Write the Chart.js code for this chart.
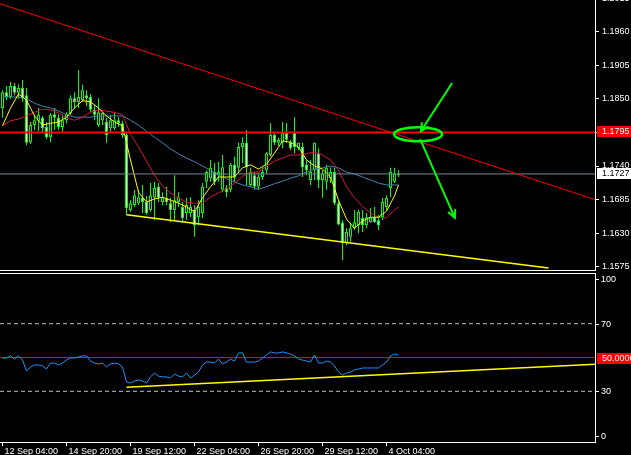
<!DOCTYPE html>
<html>
<head>
<meta charset="utf-8">
<script src="https://cdn.jsdelivr.net/npm/chart.js@4.4.1/dist/chart.umd.min.js"></script>
<style>
  html, body { margin: 0; padding: 0; background: #000; }
  #wrap { position: relative; width: 631px; height: 455px; overflow: hidden; background: #000; }
  canvas { position: absolute; left: 0; }
  #price { top: 0; }
  #rsi { top: 271px; }
</style>
</head>
<body>
<div id="wrap">
  <canvas id="price" width="631" height="271"></canvas>
  <canvas id="rsi" width="631" height="184"></canvas>
</div>
<script>
// EURUSD H4 - свечи, три скользящие, уровни, RSI

const barOpen = [
  1.1835, 1.1861, 1.1853, 1.1871, 1.1860, 1.1868, 1.1856, 1.1779, 1.1807, 1.1814,
  1.1819, 1.1804, 1.1787, 1.1825, 1.1819, 1.1804, 1.1815, 1.1827, 1.1851, 1.1845,
  1.1848, 1.1856, 1.1853, 1.1832, 1.1807, 1.1815, 1.1812, 1.1802, 1.1802, 1.1815,
  1.1810, 1.1791, 1.1668, 1.1676, 1.1679, 1.1688, 1.1681, 1.1668, 1.1688, 1.1706,
  1.1681, 1.1688, 1.1679, 1.1668, 1.1681, 1.1673, 1.1663, 1.1663, 1.1668, 1.1656,
  1.1663, 1.1714, 1.1720, 1.1730, 1.1725, 1.1701, 1.1704, 1.1701, 1.1742, 1.1737,
  1.1771, 1.1778, 1.1709, 1.1725, 1.1706, 1.1722, 1.1733, 1.1758, 1.1791, 1.1778,
  1.1778, 1.1794, 1.1779, 1.1794, 1.1769, 1.1771, 1.1742, 1.1717, 1.1733, 1.1761,
  1.1717, 1.1714, 1.1720, 1.1730, 1.1679, 1.1647, 1.1614, 1.1624, 1.1638, 1.1643,
  1.1655, 1.1643, 1.1648, 1.1656, 1.1651, 1.1656, 1.1673, 1.1704, 1.1714, 1.1725
];
const barHigh = [
  1.1864, 1.1871, 1.1878, 1.1876, 1.1874, 1.1881, 1.1868, 1.1812, 1.1824, 1.1835,
  1.1822, 1.1812, 1.1827, 1.1835, 1.1825, 1.1824, 1.1828, 1.1856, 1.1861, 1.1897,
  1.1873, 1.1864, 1.1858, 1.1840, 1.1851, 1.1828, 1.1819, 1.1824, 1.1827, 1.1820,
  1.1814, 1.1796, 1.1684, 1.1701, 1.1701, 1.1709, 1.1691, 1.1712, 1.1714, 1.1712,
  1.1697, 1.1706, 1.1688, 1.1725, 1.1697, 1.1681, 1.1688, 1.1689, 1.1676, 1.1684,
  1.1712, 1.1733, 1.1750, 1.1745, 1.1747, 1.1758, 1.1709, 1.1745, 1.1755, 1.1778,
  1.1787, 1.1799, 1.1737, 1.1730, 1.1728, 1.1738, 1.1763, 1.1810, 1.1794, 1.1786,
  1.1812, 1.1810, 1.1783, 1.1820, 1.1778, 1.1778, 1.1750, 1.1750, 1.1779, 1.1769,
  1.1733, 1.1742, 1.1738, 1.1737, 1.1684, 1.1651, 1.1638, 1.1647, 1.1668, 1.1668,
  1.1668, 1.1663, 1.1671, 1.1673, 1.1660, 1.1688, 1.1692, 1.1737, 1.1737, 1.1733
];
const barLow = [
  1.1819, 1.1848, 1.1850, 1.1856, 1.1850, 1.1845, 1.1774, 1.1776, 1.1799, 1.1797,
  1.1794, 1.1784, 1.1779, 1.1799, 1.1799, 1.1794, 1.1810, 1.1824, 1.1835, 1.1835,
  1.1845, 1.1838, 1.1828, 1.1815, 1.1804, 1.1807, 1.1778, 1.1796, 1.1799, 1.1804,
  1.1786, 1.1660, 1.1665, 1.1673, 1.1676, 1.1663, 1.1660, 1.1665, 1.1651, 1.1681,
  1.1676, 1.1676, 1.1648, 1.1651, 1.1673, 1.1648, 1.1651, 1.1656, 1.1624, 1.1643,
  1.1655, 1.1704, 1.1714, 1.1709, 1.1714, 1.1697, 1.1689, 1.1697, 1.1714, 1.1730,
  1.1745, 1.1709, 1.1706, 1.1701, 1.1701, 1.1717, 1.1728, 1.1755, 1.1774, 1.1773,
  1.1769, 1.1778, 1.1766, 1.1761, 1.1766, 1.1722, 1.1725, 1.1709, 1.1717, 1.1704,
  1.1688, 1.1701, 1.1712, 1.1676, 1.1643, 1.1586, 1.1610, 1.1616, 1.1635, 1.1630,
  1.1632, 1.1638, 1.1647, 1.1647, 1.1635, 1.1651, 1.1668, 1.1689, 1.1712, 1.1722
];
const barClose = [
  1.1861, 1.1853, 1.1871, 1.1860, 1.1868, 1.1851, 1.1778, 1.1807, 1.1815, 1.1824,
  1.1802, 1.1787, 1.1824, 1.1819, 1.1804, 1.1815, 1.1825, 1.1851, 1.1845, 1.1853,
  1.1864, 1.1851, 1.1832, 1.1824, 1.1828, 1.1827, 1.1791, 1.1815, 1.1815, 1.1810,
  1.1791, 1.1671, 1.1679, 1.1692, 1.1689, 1.1681, 1.1663, 1.1692, 1.1704, 1.1688,
  1.1689, 1.1681, 1.1668, 1.1684, 1.1689, 1.1655, 1.1676, 1.1673, 1.1643, 1.1673,
  1.1706, 1.1730, 1.1737, 1.1714, 1.1730, 1.1738, 1.1697, 1.1742, 1.1722, 1.1771,
  1.1778, 1.1738, 1.1730, 1.1706, 1.1722, 1.1730, 1.1761, 1.1791, 1.1778, 1.1783,
  1.1794, 1.1783, 1.1769, 1.1771, 1.1778, 1.1738, 1.1733, 1.1730, 1.1778, 1.1717,
  1.1728, 1.1737, 1.1730, 1.1679, 1.1644, 1.1614, 1.1632, 1.1638, 1.1648, 1.1665,
  1.1643, 1.1656, 1.1656, 1.1648, 1.1643, 1.1681, 1.1688, 1.1730, 1.1728, 1.1727
];

const maBars = [
  0, 2, 4, 6, 8, 10, 12, 14, 16, 18, 20, 22, 24, 26, 28, 30, 32, 34, 36, 38,
  40, 42, 44, 46, 48, 50, 52, 54, 56, 58, 60, 62, 64, 66, 68, 70, 72, 74, 76, 78,
  80, 82, 84, 86, 88, 90, 92, 94, 96, 98, 99
];
const maFast = [
  1.1806, 1.1835, 1.1858, 1.1848, 1.1822, 1.1807, 1.1810, 1.1812, 1.1820, 1.1835,
  1.1847, 1.1845, 1.1835, 1.1822, 1.1812, 1.1806, 1.1750, 1.1697, 1.1681, 1.1686,
  1.1689, 1.1684, 1.1679, 1.1673, 1.1665, 1.1688, 1.1706, 1.1722, 1.1722, 1.1722,
  1.1737, 1.1742, 1.1735, 1.1743, 1.1761, 1.1781, 1.1779, 1.1771, 1.1750, 1.1740,
  1.1735, 1.1722, 1.1684, 1.1653, 1.1638, 1.1650, 1.1656, 1.1656, 1.1666, 1.1691, 1.1709
];
const maMid = [
  1.1806, 1.1814, 1.1817, 1.1822, 1.1828, 1.1833, 1.1832, 1.1827, 1.1819, 1.1815,
  1.1820, 1.1828, 1.1832, 1.1830, 1.1828, 1.1824, 1.1792, 1.1771, 1.1748, 1.1725,
  1.1707, 1.1696, 1.1688, 1.1681, 1.1679, 1.1679, 1.1689, 1.1696, 1.1702, 1.1712,
  1.1723, 1.1730, 1.1730, 1.1740, 1.1748, 1.1753, 1.1758, 1.1758, 1.1760, 1.1763,
  1.1758, 1.1750, 1.1733, 1.1706, 1.1688, 1.1674, 1.1663, 1.1656, 1.1655, 1.1668, 1.1673
];
const maSlow = [
  1.1853, 1.1853, 1.1853, 1.1850, 1.1843, 1.1838, 1.1835, 1.1830, 1.1824, 1.1820,
  1.1820, 1.1820, 1.1822, 1.1822, 1.1822, 1.1822, 1.1815, 1.1807, 1.1797, 1.1787,
  1.1778, 1.1768, 1.1760, 1.1753, 1.1747, 1.1740, 1.1733, 1.1725, 1.1719, 1.1714,
  1.1709, 1.1706, 1.1702, 1.1706, 1.1711, 1.1715, 1.1720, 1.1724, 1.1730, 1.1735,
  1.1737, 1.1740, 1.1737, 1.1730, 1.1727, 1.1722, 1.1717, 1.1712, 1.1709, 1.1709, 1.1709
];

const rsiValues = [
  49.7, 49.7, 50.9, 49.1, 50.9, 48.5, 42.0, 44.4, 45.6, 45.6,
  45.0, 43.2, 46.7, 46.7, 45.6, 46.7, 48.5, 49.7, 49.7, 50.3,
  50.9, 50.9, 47.9, 46.7, 46.2, 46.7, 44.4, 46.2, 46.7, 46.2,
  44.4, 35.5, 34.9, 36.1, 36.7, 36.1, 34.9, 38.5, 40.8, 39.0,
  38.5, 38.5, 37.9, 40.2, 39.0, 38.5, 40.8, 37.9, 39.6, 41.4,
  45.6, 47.3, 47.3, 46.7, 49.1, 46.2, 47.3, 49.1, 47.9, 52.7,
  52.7, 47.3, 47.3, 47.3, 47.9, 49.7, 51.5, 53.3, 52.7, 52.7,
  53.3, 52.7, 52.1, 50.9, 49.1, 48.5, 47.9, 47.3, 51.5, 46.7,
  46.7, 47.9, 47.3, 45.0, 41.4, 39.6, 40.8, 41.4, 42.6, 43.2,
  43.8, 43.8, 43.8, 43.8, 43.8, 45.6, 47.3, 50.9, 52.1, 51.5
];

// оси
const priceTicks = [1.1575, 1.1630, 1.1685, 1.1740, 1.1795, 1.1850, 1.1905, 1.1960, 1.2015];
const rsiTicks = [100, 70, 30, 0];
const xTickBars = [0, 16, 32, 48, 64, 80, 96];
const xTickLabels = ['12 Sep 04:00', '14 Sep 20:00', '19 Sep 12:00', '22 Sep 04:00',
                     '26 Sep 20:00', '29 Sep 12:00', '4 Oct 04:00'];

// горизонтальные уровни и трендовые линии
const resistLevel = 1.1795;
const bidLevel = 1.1727;
const downTrend = { x1: -0.625, y1: 1.2006, x2: 148.125, y2: 1.1685 };
const supportTrend = { x1: 31, y1: 1.1660, x2: 136.5, y2: 1.1573 };
const rsiLevel = 50;
const rsiBands = [70, 30];
const rsiTrend = { x1: 31, y1: 32.4, x2: 148.125, y2: 46.0 };

// разметка: эллипс и стрелки (в координатах бар/цена)
const markEllipse = { x: 103.9, y: 1.1792, rx: 6, ry: 0.00115 };
const markArrows = [
  { x1: 112.4, y1: 1.1876, x2: 104.6, y2: 1.1797 },
  { x1: 104.4, y1: 1.1784, x2: 113.1, y2: 1.1655 }
];

const X_MIN = -0.625, X_MAX = 148.125;
const GREEN = '#00ff00';
const FONT = '"Liberation Sans", Arial, sans-serif';
const AXIS_FONT = { family: FONT, size: 9 };

Chart.defaults.font.family = FONT;

const candleIdx = barClose.map((_, i) => i);
const xy = (xs, ys) => ys.map((v, k) => ({ x: xs[k], y: v }));
const segment = s => [{ x: s.x1, y: s.y1 }, { x: s.x2, y: s.y2 }];
const span = v => [{ x: X_MIN, y: v }, { x: X_MAX, y: v }];

function lineSet(data, color, width, order, dash) {
  return {
    type: 'line', data, borderColor: color, borderWidth: width,
    borderDash: dash || [], pointRadius: 0, tension: 0, fill: false,
    spanGaps: true, order
  };
}

function drawArrow(ctx, x1, y1, x2, y2) {
  const ang = Math.atan2(y2 - y1, x2 - x1), L = 9, w = 0.45;
  ctx.beginPath();
  ctx.moveTo(x1, y1);
  ctx.lineTo(x2, y2);
  ctx.moveTo(x2 - L * Math.cos(ang - w), y2 - L * Math.sin(ang - w));
  ctx.lineTo(x2, y2);
  ctx.lineTo(x2 - L * Math.cos(ang + w), y2 - L * Math.sin(ang + w));
  ctx.stroke();
}

// подписи уровней справа, эллипс, стрелки
const priceOverlay = {
  id: 'priceOverlay',
  afterDatasetsDraw(chart) {
    const { ctx, chartArea: a, scales: { x, y } } = chart;
    ctx.save();
    ctx.beginPath();
    ctx.rect(a.left, a.top, a.right - a.left, a.bottom - a.top);
    ctx.clip();
    ctx.strokeStyle = GREEN;
    ctx.lineWidth = 2.5;
    const cx = x.getPixelForValue(markEllipse.x);
    const cy = y.getPixelForValue(markEllipse.y);
    const rx = x.getPixelForValue(markEllipse.x + markEllipse.rx) - cx;
    const ry = cy - y.getPixelForValue(markEllipse.y + markEllipse.ry);
    ctx.beginPath();
    ctx.ellipse(cx, cy, rx, ry, 0, 0, Math.PI * 2);
    ctx.stroke();
    ctx.lineWidth = 2;
    markArrows.forEach(m => drawArrow(ctx,
      x.getPixelForValue(m.x1), y.getPixelForValue(m.y1),
      x.getPixelForValue(m.x2), y.getPixelForValue(m.y2)));
    ctx.restore();
  },
  afterDraw(chart) {
    const { ctx, chartArea: a, scales: { y } } = chart;
    ctx.save();
    ctx.font = '9px ' + FONT;
    ctx.textBaseline = 'middle';
    ctx.textAlign = 'left';
    [[resistLevel, '#ff0000', '#ffffff'], [bidLevel, '#ffffff', '#000000']].forEach(([v, bg, fg]) => {
      const py = Math.round(y.getPixelForValue(v));
      ctx.fillStyle = bg;
      ctx.fillRect(a.right + 2, py - 6, 40, 11);
      ctx.fillStyle = fg;
      ctx.fillText(v.toFixed(4), a.right + 7, py);
    });
    ctx.strokeStyle = '#ffffff';
    ctx.lineWidth = 1;
    ctx.beginPath();
    ctx.moveTo(0, a.bottom + 0.5);
    ctx.lineTo(a.right + 1, a.bottom + 0.5);
    ctx.stroke();
    ctx.restore();
  }
};

new Chart(document.getElementById('price'), {
  type: 'bar',
  data: {
    datasets: [
      { // тени
        type: 'bar', order: 20, grouped: false, barThickness: 1, inflateAmount: 0,
        data: barLow.map((l, i) => ({ x: i, y: [l, barHigh[i]] })),
        backgroundColor: GREEN
      },
      { // тела
        type: 'bar', order: 19, grouped: false, barThickness: 3, inflateAmount: 0,
        minBarLength: 1, borderWidth: 1, borderSkipped: false, borderColor: GREEN,
        data: barOpen.map((o, i) => ({ x: i, y: [o, barClose[i]] })),
        backgroundColor: barClose.map((c, i) => c >= barOpen[i] ? '#000000' : '#ffffff')
      },
      lineSet(xy(maBars, maSlow), '#4682b4', 1, 15),
      lineSet(xy(maBars, maMid), '#dc143c', 1, 14),
      lineSet(xy(maBars, maFast), '#ffff00', 1, 13),
      lineSet(span(bidLevel), '#778899', 1, 12),
      lineSet(span(resistLevel), '#ff0000', 2, 11),
      lineSet(segment(downTrend), '#ff0000', 1, 10),
      lineSet(segment(supportTrend), '#ffff00', 1.5, 9)
    ]
  },
  options: {
    responsive: false,
    animation: false,
    devicePixelRatio: 1,
    layout: { padding: { left: 0, right: 0, top: 0, bottom: 1 }, autoPadding: false },
    plugins: { legend: { display: false }, tooltip: { enabled: false } },
    scales: {
      x: { type: 'linear', display: false, min: X_MIN, max: X_MAX, offset: false },
      y: {
        type: 'linear', position: 'right', min: 1.15696, max: 1.2012,
        afterBuildTicks: s => { s.ticks = priceTicks.map(v => ({ value: v })); },
        afterFit: s => { s.width = 36; s.paddingTop = 0; s.paddingBottom = 0; },
        ticks: { color: '#ffffff', font: AXIS_FONT, padding: 3, autoSkip: false,
                 callback: v => v.toFixed(4) },
        grid: { drawOnChartArea: false, drawTicks: true, tickLength: 4, color: '#ffffff' },
        border: { color: '#ffffff' }
      }
    }
  },
  plugins: [priceOverlay]
});

// RSI: подписи шкалы прижаты внутрь панели, как в терминале
const rsiOverlay = {
  id: 'rsiOverlay',
  afterDraw(chart) {
    const { ctx, chartArea: a, scales: { y } } = chart;
    ctx.save();
    ctx.strokeStyle = '#ffffff';
    ctx.lineWidth = 1;
    ctx.beginPath();
    ctx.moveTo(0, a.top + 0.5);
    ctx.lineTo(a.right + 1, a.top + 0.5);
    ctx.stroke();
    ctx.font = '9px ' + FONT;
    ctx.textBaseline = 'middle';
    ctx.textAlign = 'left';
    rsiTicks.forEach(v => {
      const py = Math.round(Math.min(Math.max(y.getPixelForValue(v), a.top + 6), a.bottom - 6));
      ctx.beginPath();
      ctx.moveTo(a.right, py + 0.5);
      ctx.lineTo(a.right + 4, py + 0.5);
      ctx.stroke();
      ctx.fillStyle = '#ffffff';
      ctx.fillText(String(v), a.right + 6, py + 0.5);
    });
    const p50 = Math.round(y.getPixelForValue(rsiLevel));
    ctx.fillStyle = '#ff0000';
    ctx.fillRect(a.right + 2, p50 - 5, 40, 11);
    ctx.fillStyle = '#ffffff';
    ctx.fillText(rsiLevel.toFixed(4), a.right + 7, p50 + 0.5);
    ctx.restore();
  }
};

new Chart(document.getElementById('rsi'), {
  type: 'line',
  data: {
    datasets: [
      lineSet(xy(candleIdx, rsiValues), '#1e90ff', 1, 1),
      lineSet(segment(rsiTrend), '#ffff00', 1.5, 2),
      lineSet(span(rsiLevel), '#ff0000', 1, 3),
      lineSet(span(rsiBands[0]), '#c0c0c0', 1, 4, [4, 3]),
      lineSet(span(rsiBands[1]), '#c0c0c0', 1, 4, [4, 3])
    ]
  },
  options: {
    responsive: false,
    animation: false,
    devicePixelRatio: 1,
    layout: { padding: { left: 0, right: 0, top: 2, bottom: 0 }, autoPadding: false },
    plugins: { legend: { display: false }, tooltip: { enabled: false } },
    scales: {
      x: {
        type: 'linear', position: 'bottom', min: X_MIN, max: X_MAX, offset: false,
        afterBuildTicks: s => { s.ticks = xTickBars.map(v => ({ value: v })); },
        afterFit: s => { s.height = 13; s.paddingLeft = 0; s.paddingRight = 0; },
        ticks: {
          color: '#ffffff', font: AXIS_FONT, align: 'start', labelOffset: 2, padding: 0,
          maxRotation: 0, autoSkip: false,
          callback: v => xTickLabels[xTickBars.indexOf(v)]
        },
        grid: { drawOnChartArea: false, drawTicks: true, tickLength: 4, color: '#ffffff' },
        border: { color: '#ffffff' }
      },
      y: {
        type: 'linear', position: 'right', min: 0, max: 100,
        afterFit: s => { s.width = 36; s.paddingTop = 0; s.paddingBottom = 0; },
        ticks: { display: false },
        grid: { drawOnChartArea: false, drawTicks: false },
        border: { color: '#ffffff' }
      }
    }
  },
  plugins: [rsiOverlay]
});
</script>
</body>
</html>
